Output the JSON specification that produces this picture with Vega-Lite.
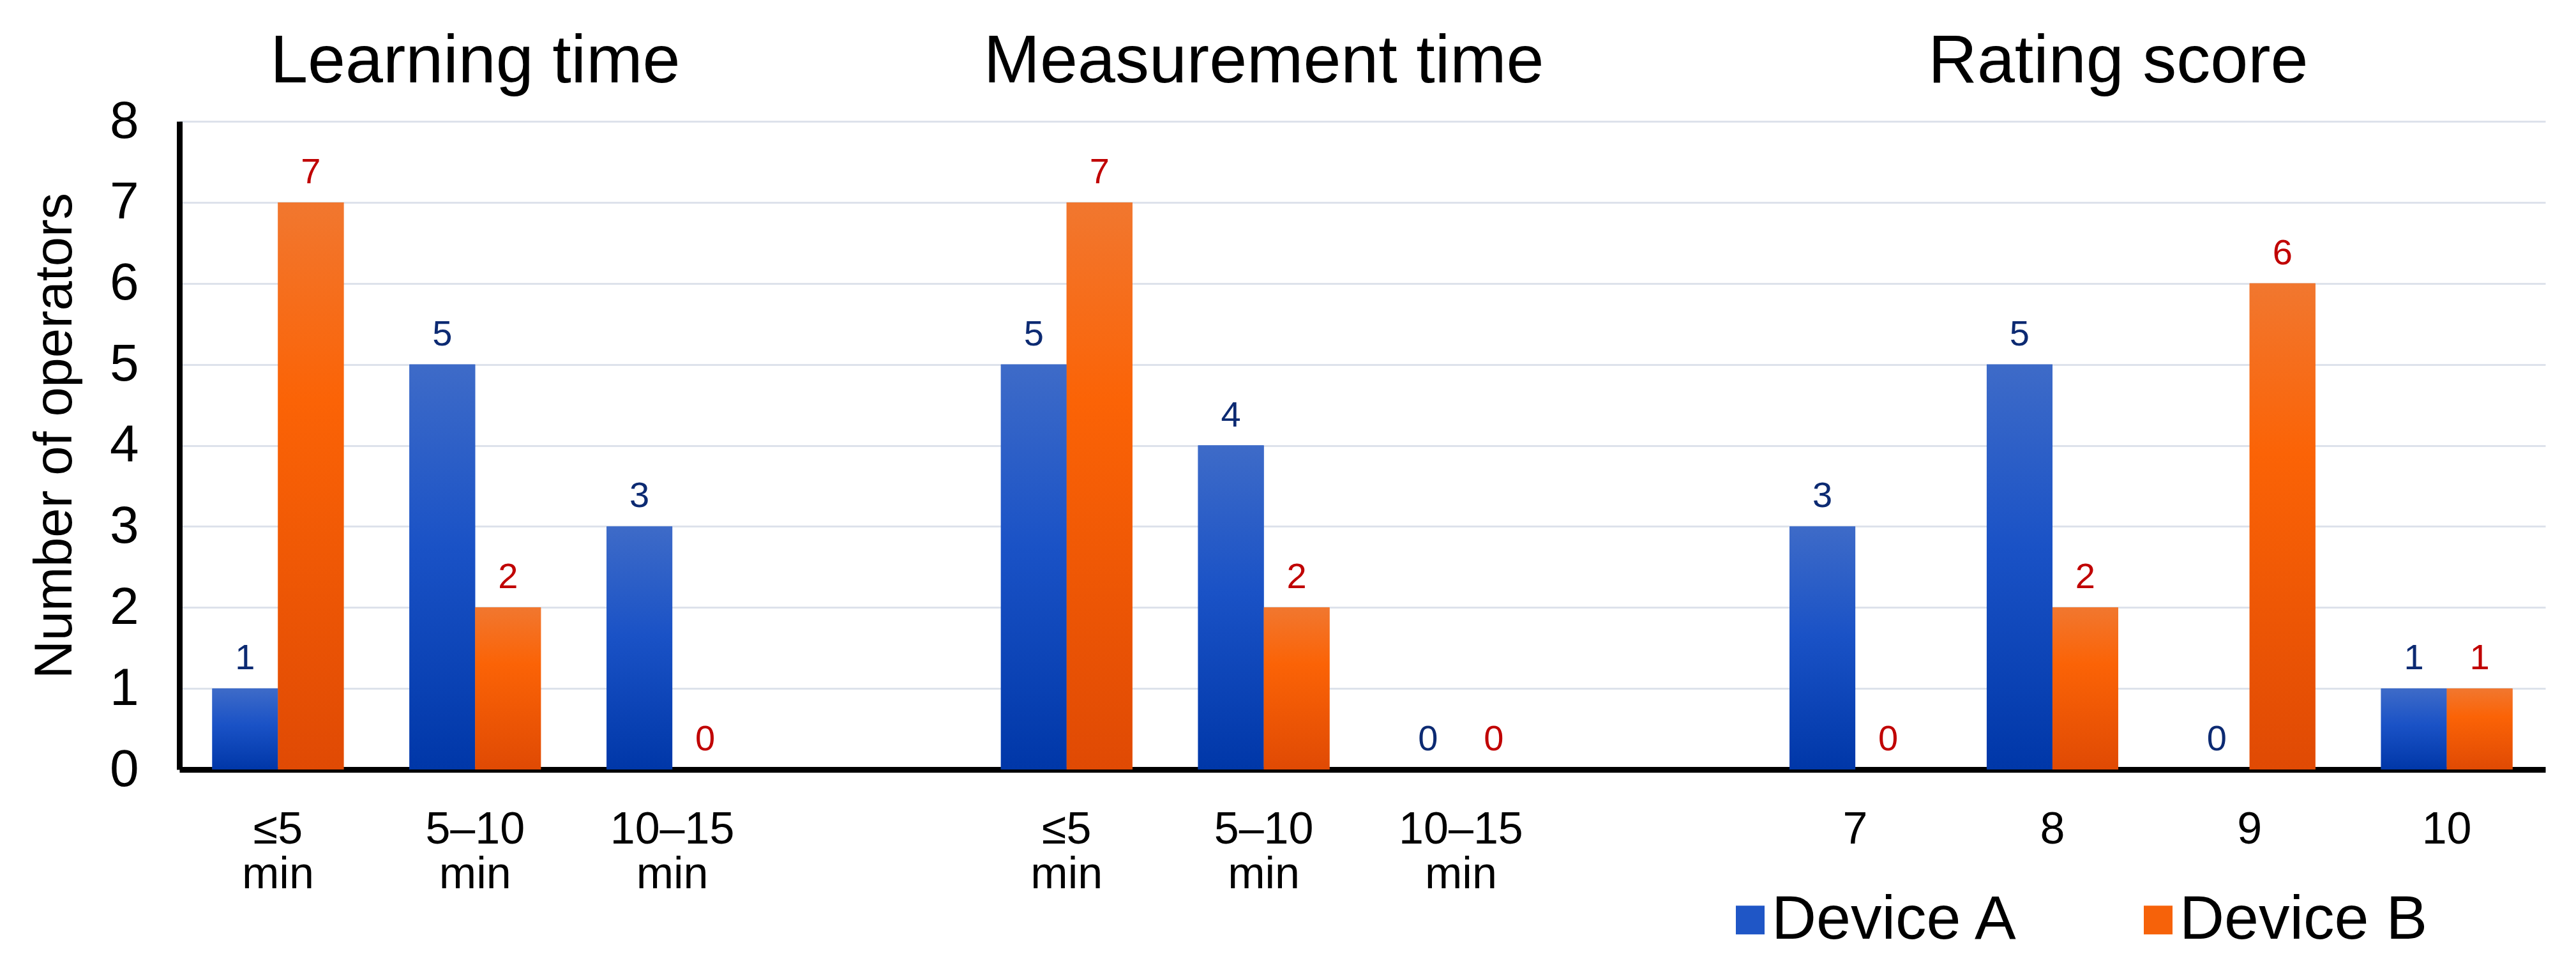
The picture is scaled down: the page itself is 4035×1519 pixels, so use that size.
{
  "$schema": "https://vega.github.io/schema/vega-lite/v6.json",
  "width": 3706,
  "height": 1015,
  "autosize": {"type": "none"},
  "padding": {"left": 281, "top": 190, "right": 48, "bottom": 314},
  "background": "white",
  "config": {"view": {"stroke": null}, "font": "Liberation Sans"},
  "datasets": {
    "counts": [
      {"panel": "Learning time", "category": "≤5 min", "slot": "Learning time|≤5 min", "device": "Device A", "n": 1},
      {"panel": "Learning time", "category": "≤5 min", "slot": "Learning time|≤5 min", "device": "Device B", "n": 7},
      {"panel": "Learning time", "category": "5–10 min", "slot": "Learning time|5–10 min", "device": "Device A", "n": 5},
      {"panel": "Learning time", "category": "5–10 min", "slot": "Learning time|5–10 min", "device": "Device B", "n": 2},
      {"panel": "Learning time", "category": "10–15 min", "slot": "Learning time|10–15 min", "device": "Device A", "n": 3},
      {"panel": "Learning time", "category": "10–15 min", "slot": "Learning time|10–15 min", "device": "Device B", "n": 0},
      {"panel": "Measurement time", "category": "≤5 min", "slot": "Measurement time|≤5 min", "device": "Device A", "n": 5},
      {"panel": "Measurement time", "category": "≤5 min", "slot": "Measurement time|≤5 min", "device": "Device B", "n": 7},
      {"panel": "Measurement time", "category": "5–10 min", "slot": "Measurement time|5–10 min", "device": "Device A", "n": 4},
      {"panel": "Measurement time", "category": "5–10 min", "slot": "Measurement time|5–10 min", "device": "Device B", "n": 2},
      {"panel": "Measurement time", "category": "10–15 min", "slot": "Measurement time|10–15 min", "device": "Device A", "n": 0},
      {"panel": "Measurement time", "category": "10–15 min", "slot": "Measurement time|10–15 min", "device": "Device B", "n": 0},
      {"panel": "Rating score", "category": "7", "slot": "Rating score|7", "device": "Device A", "n": 3},
      {"panel": "Rating score", "category": "7", "slot": "Rating score|7", "device": "Device B", "n": 0},
      {"panel": "Rating score", "category": "8", "slot": "Rating score|8", "device": "Device A", "n": 5},
      {"panel": "Rating score", "category": "8", "slot": "Rating score|8", "device": "Device B", "n": 2},
      {"panel": "Rating score", "category": "9", "slot": "Rating score|9", "device": "Device A", "n": 0},
      {"panel": "Rating score", "category": "9", "slot": "Rating score|9", "device": "Device B", "n": 6},
      {"panel": "Rating score", "category": "10", "slot": "Rating score|10", "device": "Device A", "n": 1},
      {"panel": "Rating score", "category": "10", "slot": "Rating score|10", "device": "Device B", "n": 1}
    ],
    "titlesA": [
      {"panel": "Learning time", "slot": "Learning time|5–10 min"},
      {"panel": "Measurement time", "slot": "Measurement time|5–10 min"}
    ],
    "titlesB": [
      {"panel": "Rating score", "slot": "Rating score|8"}
    ]
  },
  "layer": [
    {
      "data": {"name": "counts"},
      "mark": {"type": "bar", "strokeWidth": 0},
      "encoding": {
        "x": {
          "field": "slot",
          "type": "nominal",
          "title": null,
          "sort": null,
          "scale": {
            "domain": ["Learning time|≤5 min", "Learning time|5–10 min", "Learning time|10–15 min", "Learning time|",
                       "Measurement time|≤5 min", "Measurement time|5–10 min", "Measurement time|10–15 min", "Measurement time|",
                       "Rating score|7", "Rating score|8", "Rating score|9", "Rating score|10"],
            "paddingInner": 0.3333,
            "paddingOuter": 0.16667
          },
          "axis": {
            "labelExpr": "split(split(datum.value, '|')[1], ' ')",
            "labelAngle": 0,
            "labelFontSize": 70,
            "labelLineHeight": 70,
            "labelColor": "#000000",
            "labelPadding": 60,
            "labelLimit": 1000,
            "labelOverlap": false,
            "ticks": false,
            "tickSize": 0,
            "domainColor": "#000000",
            "domainWidth": 9,
            "grid": false
          }
        },
        "xOffset": {
          "field": "device",
          "type": "nominal",
          "scale": {"domain": ["Device A", "Device B"], "paddingInner": 0, "paddingOuter": 0}
        },
        "y": {
          "field": "n",
          "type": "quantitative",
          "title": "Number of operators",
          "scale": {"domain": [0, 8], "nice": false},
          "axis": {
            "titleFontSize": 83,
            "titleFontWeight": "normal",
            "titleColor": "#000000",
            "titleX": -195,
            "titleY": 492,
            "titleAngle": -90,
            "titleBaseline": "middle",
            "titleAlign": "center",
            "values": [0, 1, 2, 3, 4, 5, 6, 7, 8],
            "format": "d",
            "labelFontSize": 82,
            "labelColor": "#000000",
            "labelPadding": 64,
            "ticks": false,
            "tickSize": 0,
            "domainColor": "#000000",
            "domainWidth": 9,
            "grid": true,
            "gridColor": "#dde2eb",
            "gridWidth": 3
          }
        },
        "color": {
          "field": "device",
          "type": "nominal",
          "scale": {"domain": ["Device A", "Device B"], "range": ["#1f56c6", "#f6620a"]},
          "legend": {
            "title": null,
            "orient": "none",
            "direction": "horizontal",
            "legendX": 2412,
            "legendY": 1202,
            "padding": 0,
            "symbolType": "square",
            "symbolSize": 2025,
            "symbolStrokeWidth": 0,
            "symbolOpacity": 1,
            "labelFontSize": 97,
            "labelColor": "#000000",
            "labelOffset": -15,
            "columnPadding": 168,
            "labelLimit": 1000
          }
        }
      }
    },
    {
      "data": {"name": "counts"},
      "mark": {"type": "bar", "strokeWidth": 0},
      "encoding": {
        "x": {"field": "slot", "type": "nominal", "title": null},
        "xOffset": {"field": "device", "type": "nominal"},
        "y": {"field": "n", "type": "quantitative", "title": "Number of operators"},
        "fill": {
          "condition": {
            "test": "datum.device === 'Device A'",
            "value": {"gradient": "linear", "x1": 0, "y1": 0, "x2": 0, "y2": 1,
              "stops": [{"offset": 0, "color": "#3e6bc8"}, {"offset": 0.45, "color": "#1a52c6"}, {"offset": 1, "color": "#0037a8"}]}
          },
          "value": {"gradient": "linear", "x1": 0, "y1": 0, "x2": 0, "y2": 1,
            "stops": [{"offset": 0, "color": "#f1772f"}, {"offset": 0.35, "color": "#fb6306"}, {"offset": 1, "color": "#e04a04"}]}
        }
      }
    },
    {
      "data": {"name": "counts"},
      "mark": {"type": "text", "fontSize": 56, "baseline": "alphabetic", "dy": -30},
      "encoding": {
        "x": {"field": "slot", "type": "nominal", "title": null},
        "xOffset": {"field": "device", "type": "nominal"},
        "y": {"field": "n", "type": "quantitative", "title": "Number of operators"},
        "text": {"field": "n", "type": "quantitative"},
        "fill": {
          "condition": {"test": "datum.device === 'Device A'", "value": "#0c2a72"},
          "value": "#c00000"
        }
      }
    },
    {
      "data": {"name": "titlesA"},
      "mark": {"type": "text", "fontSize": 106, "baseline": "alphabetic", "dy": -61, "color": "#000000"},
      "encoding": {
        "x": {"field": "slot", "type": "nominal", "title": null},
        "y": {"datum": 8, "type": "quantitative", "title": "Number of operators"},
        "text": {"field": "panel", "type": "nominal"}
      }
    },
    {
      "data": {"name": "titlesB"},
      "mark": {"type": "text", "fontSize": 106, "baseline": "alphabetic", "dy": -61, "color": "#000000"},
      "encoding": {
        "x": {"field": "slot", "type": "nominal", "bandPosition": 1, "title": null},
        "y": {"datum": 8, "type": "quantitative", "title": "Number of operators"},
        "text": {"field": "panel", "type": "nominal"}
      }
    }
  ]
}
